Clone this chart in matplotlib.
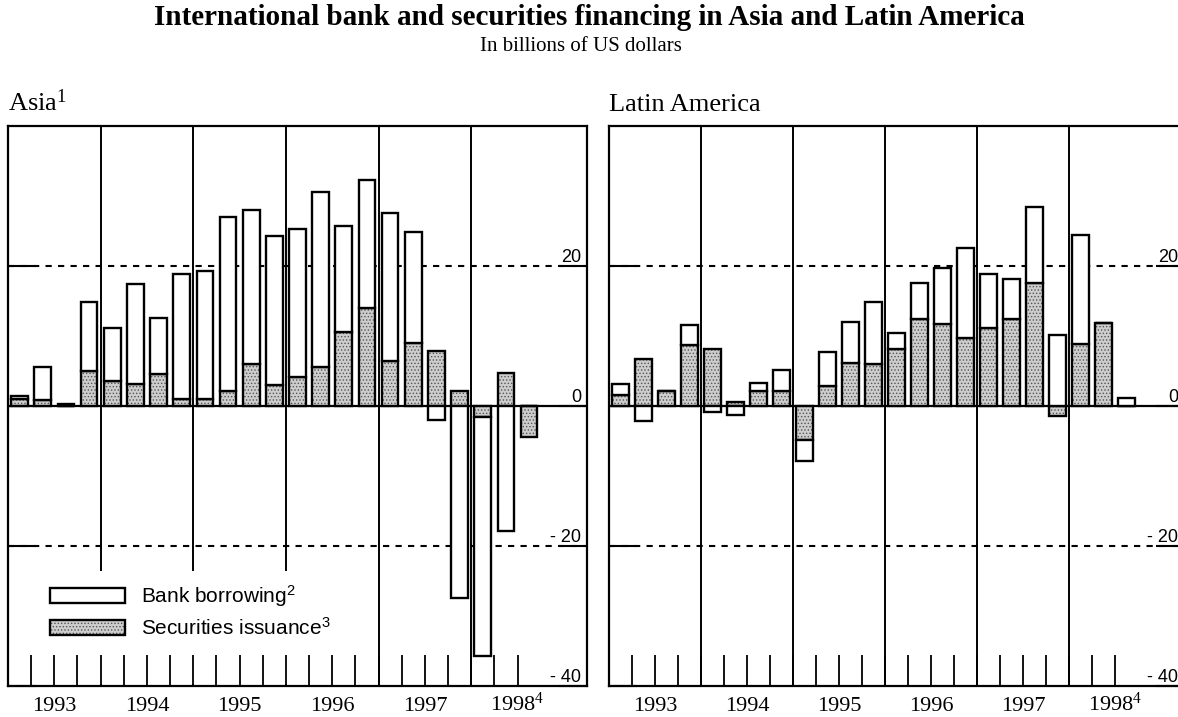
import numpy as np
import matplotlib
matplotlib.use('Agg')
import matplotlib.pyplot as plt
from matplotlib.patches import Rectangle
from matplotlib.legend_handler import HandlerTuple

plt.rcParams['font.family'] = 'Liberation Serif'
plt.rcParams['mathtext.default'] = 'regular'
plt.rcParams['hatch.color'] = '#555555'
plt.rcParams['hatch.linewidth'] = 0.6

# quarterly data, 1993 Q1 - 1998 Q3
quarters = ['93Q1', '93Q2', '93Q3', '93Q4', '94Q1', '94Q2', '94Q3', '94Q4',
            '95Q1', '95Q2', '95Q3', '95Q4', '96Q1', '96Q2', '96Q3', '96Q4',
            '97Q1', '97Q2', '97Q3', '97Q4', '98Q1', '98Q2', '98Q3']
years = ['1993', '1994', '1995', '1996', '1997', '1998$^4$']

asia_sec = [1.0, 0.8, 0.0, 5.0, 3.6, 3.1, 4.5, 1.0,
            1.0, 2.1, 6.0, 3.0, 4.2, 5.5, 10.5, 14.0,
            6.4, 9.0, 7.8, 2.1, -1.6, 4.7, -4.5]
asia_bank = [0.4, 4.7, 0.3, 9.9, 7.6, 14.3, 8.1, 17.8,
             18.3, 24.9, 22.0, 21.3, 21.1, 25.0, 15.2, 18.3,
             21.1, 15.9, -2.0, -27.4, -34.1, -17.9, 0.0]

latam_sec = [1.6, 6.7, 2.2, 8.7, 8.1, 0.6, 2.2, 2.2,
             -4.8, 2.9, 6.2, 6.0, 8.2, 12.4, 11.7, 9.7,
             11.2, 12.4, 17.6, -1.5, 8.9, 11.8, 0.0]
latam_bank = [1.6, -2.2, 0.0, 2.9, -0.9, -1.3, 1.1, 3.0,
              -3.1, 4.8, 5.8, 8.9, 2.2, 5.2, 8.0, 12.8,
              7.7, 5.8, 10.8, 10.2, 15.5, 0.0, 1.2]

ytick_vals = [-40, -20, 0, 20]
ytick_labels = ['- 40', '- 20', '0', '20']

shade = '#cdcdcd'
bar_w = 0.72


def draw_panel(ax, sec, bank, title):
    sec = np.array(sec)
    bank = np.array(bank)
    x = np.arange(len(quarters)) + 0.5
    # bank borrowing sits on top of securities when both have the same sign
    bank_bottom = np.where(bank >= 0, np.maximum(sec, 0), np.minimum(sec, 0))

    sec_fill = ax.bar(x, sec, width=bar_w, color=shade, hatch='.....',
                      linewidth=0, zorder=2)
    sec_edge = ax.bar(x, sec, width=bar_w, fill=False, edgecolor='black',
                      linewidth=1.7, zorder=2.1)
    bank_bars = ax.bar(x, bank, bottom=bank_bottom, width=bar_w,
                       facecolor='white', edgecolor='black', linewidth=1.7,
                       zorder=2.1)

    ax.set_xlim(0, 25)
    ax.set_ylim(-40, 40)

    # year separators
    for b in range(4, len(quarters), 4):
        ax.axvline(b, color='black', linewidth=1.4, zorder=1)
    ax.axhline(0, color='black', linewidth=1.6, zorder=1.2)
    for g in [-20, 20]:
        ax.axhline(g, color='black', linewidth=1.5, linestyle=(0, (3, 3)),
                   zorder=1.2)

    # quarter ticks as minor ticks, year labels as major ticks
    ax.xaxis.remove_overlapping_locs = False
    ax.set_xticks(np.arange(2, 24, 4), years)
    ax.set_xticks(np.arange(1, len(quarters)), minor=True)
    ax.tick_params(axis='x', which='minor', direction='in', length=22,
                   width=1.3, top=False)
    ax.tick_params(axis='x', which='major', length=0, pad=18, labelsize=16)
    for lbl in ax.get_xticklabels():
        lbl.set_va('baseline')

    ax.set_yticks(ytick_vals, ytick_labels)
    ax.tick_params(axis='y', direction='in', length=20, width=1.5,
                   left=True, right=True, labelleft=False, labelright=True,
                   pad=-4, labelsize=13)
    for lbl in ax.get_yticklabels():
        lbl.set_ha('right')
        lbl.set_va('bottom')
        lbl.set_fontfamily('Liberation Sans')

    for s in ax.spines.values():
        s.set_linewidth(1.6)
    ax.set_axisbelow(False)
    ax.set_title(title, loc='left', fontsize=19, pad=11)
    return bank_bars, (sec_fill, sec_edge)


fig = plt.figure(figsize=(11.78, 7.17), dpi=100)
ax1 = fig.add_axes([8 / 1178, 31 / 717, 579 / 1178, 560 / 717])
ax2 = fig.add_axes([609 / 1178, 31 / 717, 575 / 1178, 560 / 717])

bank_h, sec_h = draw_panel(ax1, asia_sec, asia_bank, 'Asia$^1$')
draw_panel(ax2, latam_sec, latam_bank, 'Latin America')

# white area behind the legend hides the lower part of the year lines
ax1.add_patch(Rectangle((0.005, 0.003), 0.6, 0.202, transform=ax1.transAxes,
                        facecolor='white', edgecolor='none', zorder=1.5))
ax1.legend([bank_h, sec_h], ['Bank borrowing$^2$', 'Securities issuance$^3$'],
           handler_map={tuple: HandlerTuple(ndivide=1)},
           loc='lower left', bbox_to_anchor=(0.072, 0.085), frameon=False,
           prop={'family': 'Liberation Sans', 'size': 15},
           handlelength=3.6, handleheight=0.75, labelspacing=0.35,
           handletextpad=0.8, borderpad=0, borderaxespad=0)

fig.text(0.5, 0.975, 'International bank and securities financing in Asia and Latin America',
         ha='center', va='center', fontsize=21, fontweight='bold')
fig.text(0.493, 0.935, 'In billions of US dollars', ha='center', va='center',
         fontsize=15)

fig.savefig('out.png', dpi=100)
